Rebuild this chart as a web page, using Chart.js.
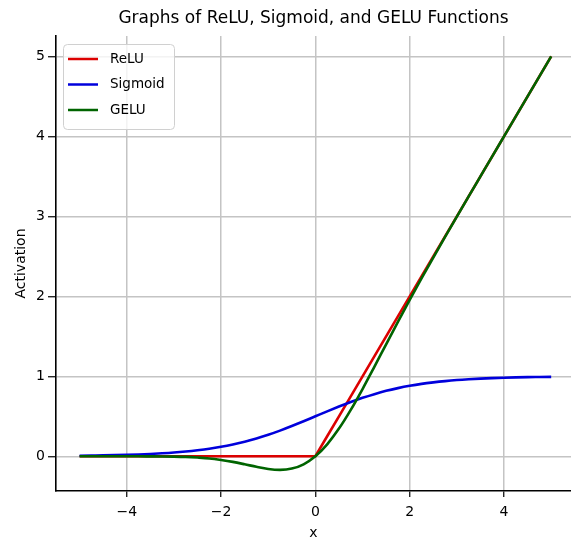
<!DOCTYPE html>
<html>
<head>
<meta charset="utf-8">
<script src="https://cdn.jsdelivr.net/npm/chart.js@4.4.1/dist/chart.umd.min.js"></script>
<style>
  html, body { margin: 0; padding: 0; background: #ffffff; }
  #wrap { width: 571px; height: 538px; position: relative; }
</style>
</head>
<body>
<div id="wrap"><canvas id="grafico"></canvas></div>
<script>
// x positions of the sampled points
const valoresX = [
    -5, -4.75, -4.5, -4.25, -4, -3.75, -3.5, -3.25, -3, -2.75,
    -2.5, -2.25, -2, -1.75, -1.5, -1.25, -1, -0.75, -0.5, -0.25,
    0, 0.25, 0.5, 0.75, 1, 1.25, 1.5, 1.75, 2, 2.25,
    2.5, 2.75, 3, 3.25, 3.5, 3.75, 4, 4.25, 4.5, 4.75, 5
];

const valoresRelu = [
    0, 0, 0, 0, 0, 0, 0, 0, 0, 0,
    0, 0, 0, 0, 0, 0, 0, 0, 0, 0,
    0, 0.25, 0.5, 0.75, 1, 1.25, 1.5, 1.75, 2, 2.25,
    2.5, 2.75, 3, 3.25, 3.5, 3.75, 4, 4.25, 4.5, 4.75, 5
];

const valoresSigmoid = [
    0.007, 0.009, 0.011, 0.014, 0.018, 0.023, 0.029, 0.037, 0.047, 0.060,
    0.076, 0.095, 0.119, 0.148, 0.182, 0.223, 0.269, 0.321, 0.378, 0.438,
    0.5, 0.562, 0.622, 0.679, 0.731, 0.777, 0.818, 0.852, 0.881, 0.905,
    0.924, 0.940, 0.953, 0.963, 0.971, 0.977, 0.982, 0.986, 0.989, 0.991, 0.993
];

const valoresGelu = [
    0, 0, 0, 0, 0, 0, -0.001, -0.002, -0.004, -0.008,
    -0.016, -0.027, -0.046, -0.070, -0.100, -0.132, -0.159, -0.170, -0.154, -0.100,
    0, 0.150, 0.346, 0.580, 0.841, 1.118, 1.400, 1.680, 1.954, 2.223,
    2.484, 2.742, 2.996, 3.248, 3.499, 3.750, 4.0, 4.25, 4.5, 4.75, 5
];

const ticksX = [-4, -2, 0, 2, 4];
const ticksY = [0, 1, 2, 3, 4, 5];

const rotulos = ['ReLU', 'Sigmoid', 'GELU'];
const cores = ['#dc0000', '#0000dc', '#006400'];

function pontos(valores) {
    return valoresX.map((x, i) => ({ x: x, y: valores[i] }));
}

const fonte = 'DejaVu Sans';
const corGrade = '#c4c4c4';

// legenda desenhada dentro da area do grafico, canto superior esquerdo
const legendaInterna = {
    id: 'legendaInterna',
    afterDraw(chart) {
        const ctx = chart.ctx;
        const x0 = 63, y0 = 44, w = 111, h = 85;
        ctx.save();
        ctx.beginPath();
        ctx.roundRect(x0 + 0.5, y0 + 0.5, w, h, 4);
        ctx.fillStyle = 'rgba(255,255,255,0.8)';
        ctx.fill();
        ctx.strokeStyle = '#d0d0d0';
        ctx.lineWidth = 1;
        ctx.stroke();
        ctx.font = '13.5px "' + fonte + '"';
        ctx.textBaseline = 'middle';
        ctx.fillStyle = '#000000';
        chart.data.datasets.forEach((ds, i) => {
            const y = 59 + i * 25.5;
            ctx.beginPath();
            ctx.moveTo(68, y);
            ctx.lineTo(98, y);
            ctx.strokeStyle = ds.borderColor;
            ctx.lineWidth = 2.5;
            ctx.stroke();
            ctx.fillText(ds.label, 110, y);
        });
        ctx.restore();
    }
};

const config = {
    type: 'scatter',
    data: {
        datasets: [{
                label: rotulos[0],
                data: pontos(valoresRelu),
                borderColor: cores[0],
                backgroundColor: cores[0],
                order: 3
            },
            {
                label: rotulos[1],
                data: pontos(valoresSigmoid),
                borderColor: cores[1],
                backgroundColor: cores[1],
                cubicInterpolationMode: 'monotone',
                order: 2
            },
            {
                label: rotulos[2],
                data: pontos(valoresGelu),
                borderColor: cores[2],
                backgroundColor: cores[2],
                cubicInterpolationMode: 'monotone',
                order: 1
            }
        ]
    },
    options: {
        responsive: true,
        maintainAspectRatio: false,
        animation: false,
        showLine: true,
        layout: { padding: 0 },
        elements: {
            point: { radius: 0, hoverRadius: 0 },
            line: { borderWidth: 2.6, tension: 0 }
        },
        plugins: {
            legend: { display: false },
            tooltip: { enabled: false },
            title: {
                display: true,
                fullSize: false,
                text: 'Graphs of ReLU, Sigmoid, and GELU Functions',
                color: '#000000',
                font: { family: fonte, size: 17, weight: 'normal' },
                padding: { top: 8, bottom: 7.6 }
            }
        },
        scales: {
            x: {
                type: 'linear',
                min: -5.5,
                max: 5.42,
                afterBuildTicks(scale) {
                    scale.ticks = ticksX.map(v => ({ value: v }));
                },
                afterFit(scale) {
                    scale.height = 47;
                },
                ticks: {
                    color: '#000000',
                    font: { family: fonte, size: 14 },
                    padding: 7,
                    maxRotation: 0,
                    callback: v => String(v).replace('-', '\u2212')
                },
                grid: {
                    color: corGrade,
                    lineWidth: 1.5,
                    tickColor: '#000000',
                    tickLength: 6,
                    tickWidth: 1.2
                },
                border: { color: '#000000', width: 1.6 },
                title: {
                    display: true,
                    text: 'x',
                    color: '#000000',
                    font: { family: fonte, size: 14 },
                    padding: { top: 0, bottom: -4 }
                }
            },
            y: {
                type: 'linear',
                min: -0.434,
                max: 5.254,
                afterBuildTicks(scale) {
                    scale.ticks = ticksY.map(v => ({ value: v }));
                },
                afterFit(scale) {
                    scale.width = 56;
                },
                ticks: {
                    color: '#000000',
                    font: { family: fonte, size: 14 },
                    padding: 3
                },
                grid: {
                    color: corGrade,
                    lineWidth: 1.5,
                    tickColor: '#000000',
                    tickLength: 8,
                    tickWidth: 1.2
                },
                border: { color: '#000000', width: 1.6 },
                title: {
                    display: true,
                    text: 'Activation',
                    color: '#000000',
                    font: { family: fonte, size: 14 },
                    padding: { top: 13, bottom: 0 }
                }
            }
        }
    },
    plugins: [legendaInterna]
};

const grafico = new Chart(document.getElementById('grafico'), config);
</script>
</body>
</html>
